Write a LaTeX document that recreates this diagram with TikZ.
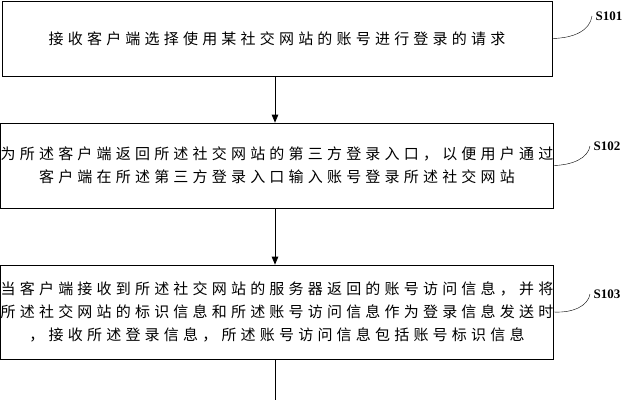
\documentclass[tikz,border=0pt]{standalone}
\usepackage{fontspec}
\setmainfont{Liberation Serif}
\newfontfamily\cjk[LetterSpace=28]{Noto Sans CJK SC}
\usetikzlibrary{positioning,arrows}
\begin{document}
\begin{tikzpicture}[x=1pt,y=1pt]
	\tikzset{stepbox/.style={draw,thick,minimum width=550pt,inner sep=0pt,font=\cjk\fontsize{15}{23}\selectfont,align=center},
		steplabel/.style={font=\bfseries\fontsize{13}{13}\selectfont,anchor=west}}
	\useasboundingbox (0,0) rectangle (628,-400);
	\node [stepbox,minimum height=75pt] (s1) at (277,-38.5) {接收客户端选择使用某社交网站的账号进行登录的请求};
	\node [stepbox,minimum height=85pt] (s2) at (277,-165.5) {为所述客户端返回所述社交网站的第三方登录入口，以便用户通过\\客户端在所述第三方登录入口输入账号登录所述社交网站};
	\node [stepbox,minimum height=94pt] (s3) at (277,-312) {当客户端接收到所述社交网站的服务器返回的账号访问信息，并将\\所述社交网站的标识信息和所述账号访问信息作为登录信息发送时\\，接收所述登录信息，所述账号访问信息包括账号标识信息};
	\coordinate (end) at (275,-400);
	\draw [thick,-triangle 45] (s1.south -| end) -- (s2.north -| end);
	\draw [thick,-triangle 45] (s2.south -| end) -- (s3.north -| end);
	\draw [thick] (s3.south -| end) -- (end);
	% step labels
	\node [steplabel] (l1) at (592,-16) {S101};
	\node [steplabel] (l2) at (590,-146) {S102};
	\node [steplabel] (l3) at (590,-294) {S103};
	\draw (s1.east) .. controls (575,-38) and (590,-30) .. (l1.west);
	\draw (s2.east) .. controls (573,-165) and (588,-158) .. (l2.west);
	\draw (s3.east) .. controls (573,-313) and (588,-306) .. (l3.west);
\end{tikzpicture}
\end{document}
